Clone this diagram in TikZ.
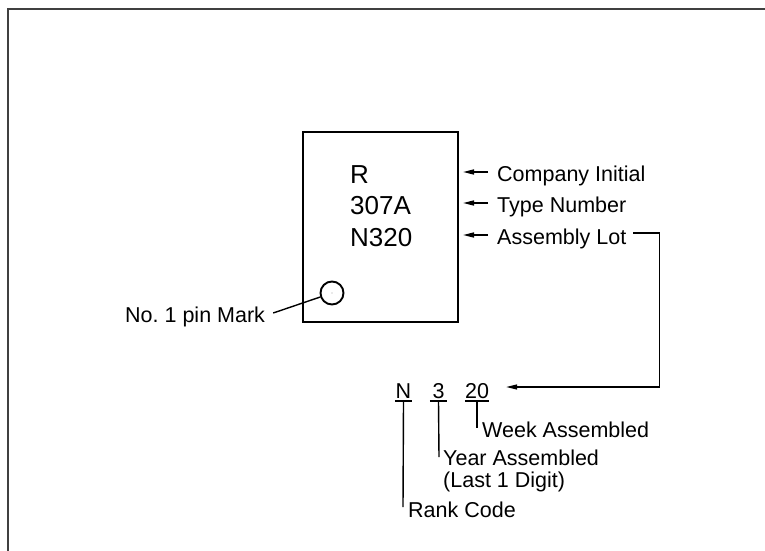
\documentclass[tikz,border=0pt]{standalone}
\usepackage{fontspec}
\setmainfont{Liberation Sans}
\usetikzlibrary{arrows.meta}
\begin{document}
\frenchspacing
\begin{tikzpicture}[x={(1pt,0)},y={(0,-1pt)},
  lbl/.style={inner sep=0pt,anchor=base west,font=\fontsize{21.5}{26}\selectfont},
  chip/.style={inner sep=0pt,anchor=base west,font=\fontsize{26}{30}\selectfont},
  code/.style={inner sep=0pt,anchor=base,font=\fontsize{21.5}{26}\selectfont},
  conn/.style={line width=1.4pt},
  arr/.style={line width=1.4pt,-{Triangle[length=11pt,width=5pt]}}]
\useasboundingbox (0,0) rectangle (765,551);
% frame
\draw[line width=1.5pt,black!75] (8,565) -- (8,9) -- (780,9);
% chip
\node[draw,line width=2.3pt,minimum width=155pt,minimum height=190pt,inner sep=0pt] (box) at (380.5,227) {};
\node[chip] (r) at (350,183) {R};
\node[chip] (tn) at (350,214) {307A};
\node[chip] (lot) at (350,246) {N320};
\node[circle,draw,line width=1.9pt,minimum size=23pt,inner sep=0pt] (pin) at (332,293) {};
\fill (pin.center) circle (0.4pt);
% labels right
\node[lbl] (ci) at (497,181) {Company Initial};
\node[lbl] (tl) at (497,212) {Type Number};
\node[lbl] (al) at (497,244) {Assembly Lot};
\draw[arr] ([xshift=-9pt,yshift=9pt]ci.base west) -- ++(-25,0);
\draw[arr] ([xshift=-9pt,yshift=9pt]tl.base west) -- ++(-25,0);
\draw[arr] ([xshift=-9pt,yshift=9pt]al.base west) -- ++(-25,0);
% pin mark
\node[lbl] (pm) at (125,322) {No. 1 pin Mark};
\draw[conn] ([xshift=8pt,yshift=9pt]pm.base east) -- (pin);
% code row
\node[code,minimum width=17pt] (cn) at (403.5,398) {N};
\node[code,minimum width=17pt] (c3) at (438.5,398) {3};
\node[code,minimum width=22pt] (c20) at (477,398) {20};
\foreach \n in {cn,c3,c20}
  \draw[line width=1.2pt] ([yshift=-3pt]\n.base west) -- ([yshift=-3pt]\n.base east);
\draw[arr] ([xshift=7pt,yshift=11pt]al.base east) -- ++(26,0) |- ([xshift=17pt,yshift=11pt]c20.base east);
% explanation labels
\node[lbl] (wa) at (482,437) {Week Assembled};
\node[lbl] (ya) at (443,465) {Year Assembled};
\node[lbl] (ld) at (443,487) {(Last 1 Digit)};
\node[lbl] (rc) at (408,517) {Rank Code};
\draw[conn] ([yshift=-3pt]c20.base) -- ([xshift=-5pt,yshift=9pt]wa.base west);
\draw[conn] ([yshift=-3pt]c3.base) -- ([xshift=-4pt,yshift=8pt]ya.base west);
\draw[conn] ([yshift=-3pt]cn.base) -- ([xshift=-5pt,yshift=10pt]rc.base west);
\end{tikzpicture}
\end{document}
